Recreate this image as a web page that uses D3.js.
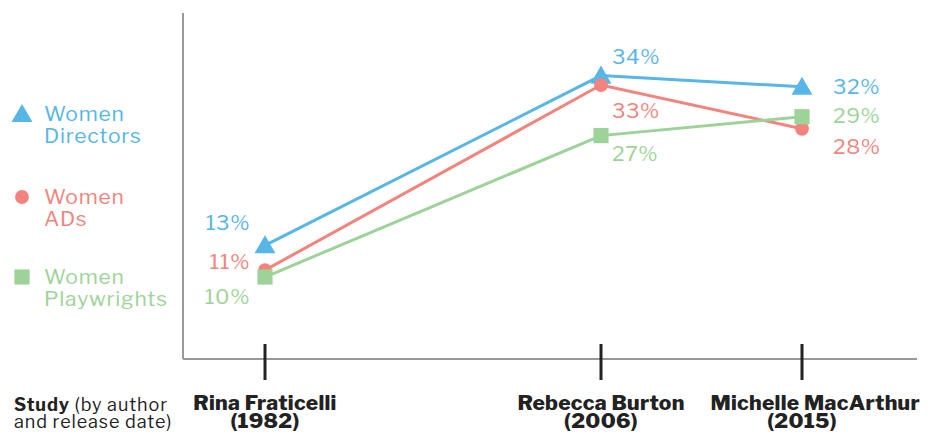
<!DOCTYPE html>
<html><head><meta charset="utf-8">
<script src="https://cdn.jsdelivr.net/npm/d3@7"></script>
<style>body{margin:0;background:#fff}svg{display:block}text{font-family:"Libre Franklin",Inter,"Open Sans",sans-serif}</style>
</head><body><svg id="c" width="937" height="435"></svg>
<script>
const studies = ["Rina Fraticelli", "Rebecca Burton", "Michelle MacArthur"];
const years = [1982, 2006, 2015];
const directors = [14.2, 34.0, 32.7];
const ads = [11.3, 32.9, 27.8];
const playwrights = [10.5, 27.0, 29.2];
const directorsLabels = ["13%", "34%", "32%"];
const adsLabels = ["11%", "33%", "28%"];
const playwrightsLabels = ["10%", "27%", "29%"];
const seriesNames = [["Women", "Directors"], ["Women", "ADs"], ["Women", "Playwrights"]];

(function () {
const svg = d3.select("#c");
const W = 937;
const pLeft = 183, pRight = 917, pTop = 13, pBottom = 359;
const x = d3.scaleLinear().domain(years).range([265, 265 + 0.6257 * 537, 802]);
const y = d3.scaleLinear().domain([0, 40]).range([367, 367 - 40 * 8.57]);

const colors = ["#56b6e8", "#f3837c", "#9dd398"];
const series = [
  {vals: directors, labels: directorsLabels, sym: d3.symbolTriangle, size: 190, dy: [-23, -19, 0]},
  {vals: ads, labels: adsLabels, sym: d3.symbolCircle, size: 150, dy: [-9, 26, 18]},
  {vals: playwrights, labels: playwrightsLabels, sym: d3.symbolSquare, size: 230, dy: [20, 18, -1]}
];

svg.append("line").attr("x1", pLeft).attr("x2", pLeft).attr("y1", pTop).attr("y2", pBottom)
  .attr("stroke", "#999").attr("stroke-width", 2);
svg.append("line").attr("x1", pLeft).attr("x2", pRight).attr("y1", pBottom).attr("y2", pBottom)
  .attr("stroke", "#999").attr("stroke-width", 2);

const xAxis = d3.axisBottom(x).tickValues(years).tickSize(0).tickFormat("");
const ag = svg.append("g").attr("transform", `translate(0,${pBottom})`).call(xAxis);
ag.select(".domain").remove();
years.forEach((yr, i) => {
  svg.append("line").attr("x1", x(yr)).attr("x2", x(yr)).attr("y1", 344).attr("y2", 380)
    .attr("stroke", "#222").attr("stroke-width", 3);
  const last = i === years.length - 1;
  svg.append("text").attr("x", last ? W - 17 : x(yr)).attr("y", 410)
    .attr("text-anchor", last ? "end" : "middle")
    .attr("font-weight", 800).attr("font-size", 21).attr("letter-spacing", 0.3).attr("fill", "#222")
    .text(studies[i]);
  svg.append("text").attr("x", x(yr)).attr("y", 428).attr("text-anchor", "middle")
    .attr("font-weight", 800).attr("font-size", 21).attr("letter-spacing", 0.3).attr("fill", "#222")
    .text("(" + yr + ")");
});
const st = svg.append("text").attr("x", 14).attr("y", 411).attr("font-size", 18)
  .attr("letter-spacing", 0.9).attr("fill", "#222");
st.append("tspan").attr("font-weight", 700).text("Study");
st.append("tspan").attr("font-weight", 400).text(" (by author");
svg.append("text").attr("x", 14).attr("y", 428).attr("font-size", 18)
  .attr("letter-spacing", 0.9).attr("fill", "#222").text("and release date)");

const line = d3.line().x((d, i) => x(years[i])).y(d => y(d));
series.forEach((s, k) => {
  svg.append("path").datum(s.vals).attr("d", line).attr("fill", "none")
    .attr("stroke", colors[k]).attr("stroke-width", 3);
});
series.forEach((s, k) => {
  s.vals.forEach((v, i) => {
    svg.append("path").attr("d", d3.symbol(s.sym, s.size)())
      .attr("transform", `translate(${x(years[i])},${y(v) + (k === 0 ? 2 : 0)})`).attr("fill", colors[k]);
    const lx = i === 0 ? x(years[i]) - 15 : x(years[i]) + (i === 1 ? 11 : 31);
    svg.append("text").attr("x", lx).attr("y", y(v) + s.dy[i])
      .attr("dy", "0.35em").attr("text-anchor", i === 0 ? "end" : "start")
      .attr("font-size", 21).attr("letter-spacing", 0.6).attr("fill", colors[k]).text(s.labels[i]);
  });
});
const legY = [114, 197, 277];
series.forEach((s, k) => {
  svg.append("path").attr("d", d3.symbol(s.sym, s.size)())
    .attr("transform", `translate(22,${legY[k] + (k === 0 ? 2 : 0)})`).attr("fill", colors[k]);
  svg.append("text").attr("x", 44).attr("y", legY[k]).attr("dy", "0.35em")
    .attr("font-size", 21).attr("letter-spacing", 0.8).attr("fill", colors[k]).text(seriesNames[k][0]);
  svg.append("text").attr("x", 44).attr("y", legY[k] + 22).attr("dy", "0.35em")
    .attr("font-size", 21).attr("letter-spacing", 0.8).attr("fill", colors[k]).text(seriesNames[k][1]);
});
})();
</script></body></html>
